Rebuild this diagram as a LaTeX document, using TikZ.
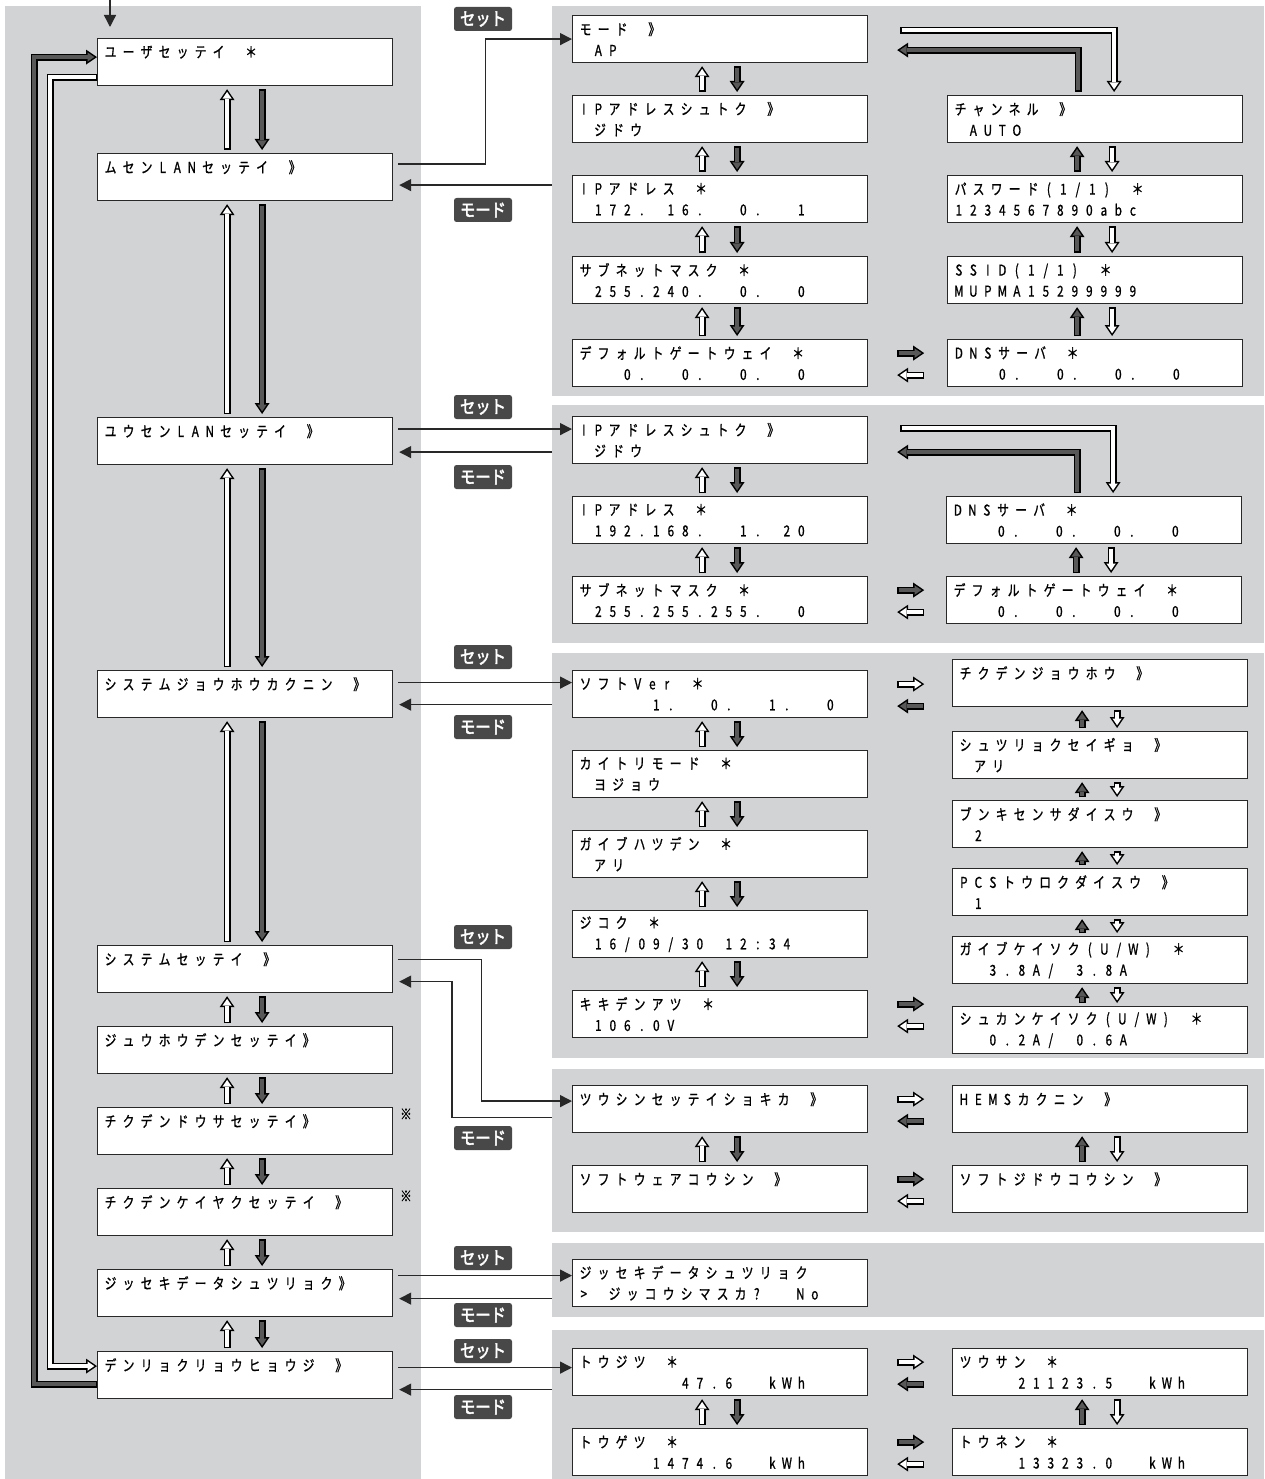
\documentclass[tikz,border=0pt]{standalone}
\usepackage{fontspec}
\usepackage{tikz}
\usetikzlibrary{arrows.meta}
\newfontfamily\lcdfont{Noto Sans CJK JP}[FakeStretch=0.78,FakeBold=1]
\newfontfamily\keyfont{Noto Sans CJK JP}[FakeStretch=0.85,FakeBold=2.5]
\definecolor{panelgray}{RGB}{209, 211, 212}
\definecolor{keygray}{RGB}{72, 72, 72}
\definecolor{darkfill}{RGB}{88, 88, 88}
\definecolor{frame}{RGB}{40, 40, 40}

\ExplSyntaxOn
\NewDocumentCommand \lcd { m }
 {
  \str_map_inline:nn {#1}
   {
    \tl_if_blank:nTF {##1}
     { \hbox_to_wd:nn {14.5pt} {} }
     {
      \int_compare:nNnTF {`##1} = {126}
       { \hbox_to_wd:nn {14.5pt} {} }
       {
        \int_compare:nNnTF {`##1} > {127}
         { \hbox_to_wd:nn {18pt} { \hss ##1 \hss } }
         { \hbox_to_wd:nn {14.5pt} { \hss ##1 \hss } }
       }
     }
   }
 }
\ExplSyntaxOff
\newcommand{\screen}[2]{\lcd{#1}\\\mbox{}\lcd{#2}}

\tikzset{
  lcdbox/.style={draw=frame, line width=1.2pt, fill=white, anchor=north west,
    minimum width=295pt, minimum height=47pt, inner sep=0pt, text width=287pt,
    align=left, font=\lcdfont\fontsize{15pt}{21pt}\selectfont},
  keylabel/.style={fill=keygray, rounded corners=2.5pt, text=white, minimum width=58pt,
    minimum height=24pt, inner sep=0pt, font=\keyfont\fontsize{18pt}{18pt}\selectfont},
  note/.style={inner sep=0pt, font=\lcdfont\fontsize{15pt}{15pt}\selectfont},
  link/.style={draw=frame, line width=1.4pt, -{Triangle[length=12pt,width=12pt]}},
  fatout/.style={draw=black, line width=7pt, -{Triangle[length=11pt,width=15pt,line width=0pt]}},
  fatin/.style={draw=#1, line width=4pt, shorten <=1.5pt, shorten >=2.7pt,
    -{Triangle[length=6.8pt,width=9.3pt,line width=0pt]}}
}
\newcommand{\fatarrow}[2]{\draw[fatout] #2; \draw[fatin=#1] #2;}
\newcommand{\vpair}[4]{%
  \fatarrow{#3}{([xshift=-18pt,yshift=3pt]#2.north) -- ([xshift=-18pt,yshift=-3pt]#1.south)}%
  \fatarrow{#4}{([xshift=17pt,yshift=-3pt]#1.south) -- ([xshift=17pt,yshift=3pt]#2.north)}}
\newcommand{\hpair}[3]{%
  \fatarrow{#2}{([xshift=29pt,yshift=10pt]#1.east) -- ([xshift=56pt,yshift=10pt]#1.east)}%
  \fatarrow{#3}{([xshift=56pt,yshift=-12pt]#1.east) -- ([xshift=29pt,yshift=-12pt]#1.east)}}

\begin{document}
\begin{tikzpicture}[x=1pt,y=-1pt]
\useasboundingbox (0,0) rectangle (1264,1479);
\fill[panelgray] (5,6) rectangle (421,1479);
\fill[panelgray] (552,6) rectangle (1264,396);
\fill[panelgray] (552,405) rectangle (1264,643);
\fill[panelgray] (552,653) rectangle (1264,1058);
\fill[panelgray] (552,1069) rectangle (1264,1232);
\fill[panelgray] (552,1243) rectangle (1264,1317);
\fill[panelgray] (552,1330) rectangle (1264,1479);

\node[lcdbox] (user) at (97,38) {\screen{ユーザセッテイ ＊}{}};
\node[lcdbox] (mu) at (97,153) {\screen{ムセンLANセッテイ 》}{}};
\node[lcdbox] (yu) at (97,417) {\screen{ユウセンLANセッテイ 》}{}};
\node[lcdbox] (sysinfo) at (97,670) {\screen{システムジョウホウカクニン 》}{}};
\node[lcdbox] (sysset) at (97,945) {\screen{システムセッテイ 》}{}};
\node[lcdbox] (juho) at (97,1026) {\screen{ジュウホウデンセッテイ》}{}};
\node[lcdbox] (chikudo) at (97,1107) {\screen{チクデンドウサセッテイ》}{}};
\node[lcdbox] (chikukei) at (97,1188) {\screen{チクデンケイヤクセッテイ 》}{}};
\node[lcdbox] (jisseki) at (97,1269) {\screen{ジッセキデータシュツリョク》}{}};
\node[lcdbox] (den) at (97,1351) {\screen{デンリョクリョウヒョウジ 》}{}};
\node[note] (markA) at (406,1114) {※};
\node[note] (markB) at (406,1196) {※};

\node[lcdbox] (mode) at (572,15) {\screen{モード 》}{~AP}};
\node[lcdbox] (ipsA) at (572,95) {\screen{IPアドレスシュトク 》}{~ジドウ}};
\node[lcdbox] (ipA) at (572,175) {\screen{IPアドレス ＊}{~172.~16.~~0.~~1}};
\node[lcdbox] (subA) at (572,256) {\screen{サブネットマスク ＊}{~255.240.~~0.~~0}};
\node[lcdbox] (gwA) at (572,339) {\screen{デフォルトゲートウェイ ＊}{~~~0.~~0.~~0.~~0}};
\node[lcdbox] (chan) at (947,95) {\screen{チャンネル 》}{~AUTO}};
\node[lcdbox] (pass) at (947,175) {\screen{パスワード(1/1) ＊}{1234567890abc}};
\node[lcdbox] (ssid) at (947,256) {\screen{SSID(1/1) ＊}{MUPMA15299999}};
\node[lcdbox] (dnsA) at (947,339) {\screen{DNSサーバ ＊}{~~~0.~~0.~~0.~~0}};

\node[lcdbox] (ipsB) at (572,416) {\screen{IPアドレスシュトク 》}{~ジドウ}};
\node[lcdbox] (ipB) at (572,496) {\screen{IPアドレス ＊}{~192.168.~~1.~20}};
\node[lcdbox] (subB) at (572,576) {\screen{サブネットマスク ＊}{~255.255.255.~~0}};
\node[lcdbox] (dnsB) at (946,496) {\screen{DNSサーバ ＊}{~~~0.~~0.~~0.~~0}};
\node[lcdbox] (gwB) at (946,576) {\screen{デフォルトゲートウェイ ＊}{~~~0.~~0.~~0.~~0}};

\node[lcdbox] (ver) at (572,670) {\screen{ソフトVer ＊}{~~~~~1.~~0.~~1.~~0}};
\node[lcdbox] (kai) at (572,750) {\screen{カイトリモード ＊}{~ヨジョウ}};
\node[lcdbox] (gaib) at (572,830) {\screen{ガイブハツデン ＊}{~アリ}};
\node[lcdbox] (jikoku) at (572,910) {\screen{ジコク ＊}{~16/09/30 12:34}};
\node[lcdbox] (kiki) at (572,990) {\screen{キキデンアツ ＊}{~106.0V}};
\node[lcdbox] (chikujo) at (952,659) {\screen{チクデンジョウホウ 》}{}};
\node[lcdbox] (shutsu) at (952,731) {\screen{シュツリョクセイギョ 》}{~アリ}};
\node[lcdbox] (bunki) at (952,800) {\screen{ブンキセンサダイスウ 》}{~2}};
\node[lcdbox] (pcs) at (952,868) {\screen{PCSトウロクダイスウ 》}{~1}};
\node[lcdbox] (gaikei) at (952,936) {\screen{ガイブケイソク(U/W) ＊}{~~3.8A/ 3.8A}};
\node[lcdbox] (shukan) at (952,1006) {\screen{シュカンケイソク(U/W) ＊}{~~0.2A/ 0.6A}};

\node[lcdbox] (tsushin) at (572,1085) {\screen{ツウシンセッテイショキカ 》}{}};
\node[lcdbox] (softup) at (572,1165) {\screen{ソフトウェアコウシン 》}{}};
\node[lcdbox] (hems) at (952,1085) {\screen{HEMSカクニン 》}{}};
\node[lcdbox] (softauto) at (952,1165) {\screen{ソフトジドウコウシン 》}{}};

\node[lcdbox] (jissekiE) at (572,1259) {\screen{ジッセキデータシュツリョク}{> ジッコウシマスカ?~~No}};

\node[lcdbox] (toujitsu) at (572,1348) {\screen{トウジツ ＊}{~~~~~~~47.6~~kWh}};
\node[lcdbox] (tougetsu) at (572,1428) {\screen{トウゲツ ＊}{~~~~~1474.6~~kWh}};
\node[lcdbox] (tsusan) at (952,1348) {\screen{ツウサン ＊}{~~~~21123.5~~kWh}};
\node[lcdbox] (tounen) at (952,1428) {\screen{トウネン ＊}{~~~~13323.0~~kWh}};

\node[keylabel] (keysetA) at (483,19) {セット};
\node[keylabel] (keymodeA) at (483,210) {モード};
\node[keylabel] (keysetB) at (483,407) {セット};
\node[keylabel] (keymodeB) at (483,477) {モード};
\node[keylabel] (keysetC) at (483,657) {セット};
\node[keylabel] (keymodeC) at (483,727) {モード};
\node[keylabel] (keysetD) at (483,937) {セット};
\node[keylabel] (keymodeD) at (483,1138) {モード};
\node[keylabel] (keysetE) at (483,1258) {セット};
\node[keylabel] (keymodeE) at (483,1315) {モード};
\node[keylabel] (keysetF) at (483,1351) {セット};
\node[keylabel] (keymodeF) at (483,1407) {モード};

\coordinate (entry) at (110,0);
\draw[link, shorten >=11pt] (entry) -- (entry |- user.north);

\draw[link, shorten <=5pt] ([yshift=13pt]mu.east) -- ++(92,0) |- (mode.west);
\coordinate (muback) at ([xshift=-20pt,yshift=14pt]ipA.west);
\draw[link, shorten >=6pt] (muback) -- (muback -| mu.east);

\coordinate (yuout) at ([yshift=12pt]yu.east);
\draw[link, shorten <=5pt] (yuout) -- (yuout -| ipsB.west);
\coordinate (yuback) at ([xshift=-20pt,yshift=-12pt]ipsB.west);
\draw[link, shorten >=6pt] (yuback) -- (yuback -| yu.east);

\coordinate (siout) at ([yshift=11.5pt]sysinfo.east);
\draw[link, shorten <=5pt] (siout) -- (siout -| ver.west);
\coordinate (siback) at ([xshift=-20pt,yshift=-10.5pt]ver.west);
\draw[link, shorten >=6pt] (siback) -- (siback -| sysinfo.east);

\draw[link, shorten <=5pt] ([yshift=9.5pt]sysset.east) -- ++(88,0) |- ([yshift=8pt]tsushin.west);
\coordinate (ssback) at ([xshift=-20pt,yshift=-8.5pt]tsushin.west);
\draw[link, shorten >=6pt] (ssback) -- ++(-100,0) |- ([yshift=-12.5pt]sysset.east);

\coordinate (jsout) at ([yshift=17.5pt]jisseki.east);
\draw[link, shorten <=5pt] (jsout) -- (jsout -| jissekiE.west);
\coordinate (jsback) at ([xshift=-20pt,yshift=-15.5pt]jissekiE.west);
\draw[link, shorten >=6pt] (jsback) -- (jsback -| jisseki.east);

\coordinate (dnout) at ([yshift=7.5pt]den.east);
\draw[link, shorten <=5pt] (dnout) -- (dnout -| toujitsu.west);
\coordinate (dnback) at ([xshift=-20pt,yshift=-17.5pt]toujitsu.west);
\draw[link, shorten >=6pt] (dnback) -- (dnback -| den.east);

\fatarrow{darkfill}{([yshift=-9pt]den.west) -- ++(-63,0) |- ([yshift=5pt]user.west)}
\fatarrow{white}{([yshift=-15pt]user.west) -- ++(-47,0) |- ([yshift=9pt]den.west)}

\vpair{user}{mu}{white}{darkfill}
\vpair{mu}{yu}{white}{darkfill}
\vpair{yu}{sysinfo}{white}{darkfill}
\vpair{sysinfo}{sysset}{white}{darkfill}
\vpair{sysset}{juho}{white}{darkfill}
\vpair{juho}{chikudo}{white}{darkfill}
\vpair{chikudo}{chikukei}{white}{darkfill}
\vpair{chikukei}{jisseki}{white}{darkfill}
\vpair{jisseki}{den}{white}{darkfill}

\vpair{mode}{ipsA}{white}{darkfill}
\vpair{ipsA}{ipA}{white}{darkfill}
\vpair{ipA}{subA}{white}{darkfill}
\vpair{subA}{gwA}{white}{darkfill}
\vpair{chan}{pass}{darkfill}{white}
\vpair{pass}{ssid}{darkfill}{white}
\vpair{ssid}{dnsA}{darkfill}{white}
\hpair{gwA}{darkfill}{white}
\fatarrow{white}{([xshift=32pt,yshift=9pt]mode.east) -| ([xshift=19pt,yshift=3pt]chan.north)}
\fatarrow{darkfill}{([xshift=-17pt,yshift=3pt]chan.north) |- ([xshift=29pt,yshift=-11pt]mode.east)}

\vpair{ipsB}{ipB}{white}{darkfill}
\vpair{ipB}{subB}{white}{darkfill}
\vpair{dnsB}{gwB}{darkfill}{white}
\hpair{subB}{darkfill}{white}
\fatarrow{white}{([xshift=32pt,yshift=12pt]ipsB.east) -| ([xshift=19pt,yshift=3pt]dnsB.north)}
\fatarrow{darkfill}{([xshift=-17pt,yshift=3pt]dnsB.north) |- ([xshift=29pt,yshift=-12pt]ipsB.east)}

\vpair{ver}{kai}{white}{darkfill}
\vpair{kai}{gaib}{white}{darkfill}
\vpair{gaib}{jikoku}{white}{darkfill}
\vpair{jikoku}{kiki}{white}{darkfill}
\vpair{chikujo}{shutsu}{darkfill}{white}
\vpair{shutsu}{bunki}{darkfill}{white}
\vpair{bunki}{pcs}{darkfill}{white}
\vpair{pcs}{gaikei}{darkfill}{white}
\vpair{gaikei}{shukan}{darkfill}{white}
\hpair{ver}{white}{darkfill}
\hpair{kiki}{darkfill}{white}

\vpair{tsushin}{softup}{white}{darkfill}
\vpair{hems}{softauto}{darkfill}{white}
\hpair{tsushin}{white}{darkfill}
\hpair{softup}{darkfill}{white}

\vpair{toujitsu}{tougetsu}{white}{darkfill}
\vpair{tsusan}{tounen}{darkfill}{white}
\hpair{toujitsu}{white}{darkfill}
\hpair{tougetsu}{darkfill}{white}
\end{tikzpicture}
\end{document}
